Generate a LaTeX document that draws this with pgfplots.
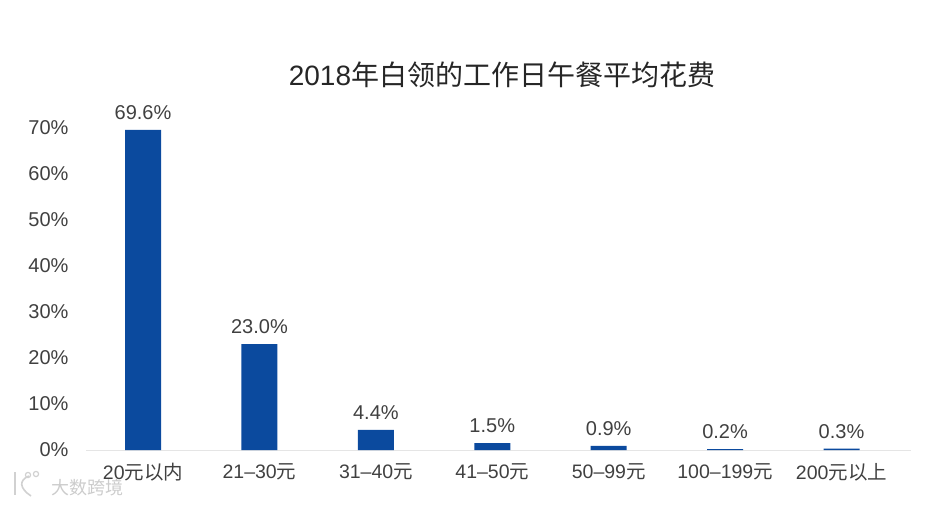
\documentclass[border=0pt]{standalone}
\usepackage{pgfplots}
\pgfplotsset{compat=1.18}
\usepackage{fontspec}
\setmainfont{Liberation Sans}
\newfontfamily\cjk{Noto Sans CJK SC}
\definecolor{txt}{HTML}{404040}
\definecolor{barc}{HTML}{0B4A9E}
\begin{document}
\begin{tikzpicture}[x=1pt,y=1pt]
\path[use as bounding box] (0,0) rectangle (948,504);
\begin{axis}[
  at={(86pt,54pt)},anchor=south west,
  scale only axis,width=825pt,height=331.2pt,
  xmin=-0.49,xmax=6.597,ymin=0,ymax=72,
  axis y line=left,axis x line=bottom,
  axis line style={draw=none},
  x axis line style={draw=black!10,-},
  y axis line style={draw=none,-},
  ytick={0,10,20,30,40,50,60,70},
  yticklabel={\pgfmathprintnumber{\tick}\%},
  /pgf/number format/assume math mode=true,
  xtick={0,1,2,3,4,5,6},
  xticklabels={20{\cjk 元以内},21–30{\cjk 元},31–40{\cjk 元},41–50{\cjk 元},50–99{\cjk 元},100–199{\cjk 元},200{\cjk 元以上}},
  major tick length=0pt,
  tick label style={font=\fontsize{19.5}{21}\selectfont,text=txt},
  yticklabel style={xshift=-14pt,font=\fontsize{20}{21}\selectfont},
  xticklabel style={yshift=-10pt},
  clip=false,
  ybar,bar width=36pt,
  nodes near coords={\pgfmathprintnumber[fixed,fixed zerofill,precision=1,assume math mode=true]{\pgfplotspointmeta}\%},
  every node near coord/.style={font=\fontsize{20}{21}\selectfont,text=txt,yshift=6.5pt,anchor=south},
]
\addplot[fill=barc,draw=none] coordinates {(0,69.6)(1,23.0)(2,4.4)(3,1.5)(4,0.9)(5,0.2)(6,0.3)};
\end{axis}
\node[font=\fontsize{28}{30}\selectfont,text=black!85,anchor=center] at (502,429) {2018{\cjk 年白领的工作日午餐平均花费}};
% watermark
\draw[black!18,line width=1.6pt] (15,32) -- (15,9);
\draw[black!18,line width=1.6pt] (29,28) .. controls (19,24) and (19,16) .. (31,8);
\draw[black!18,line width=1.2pt] (28,29) circle (2.6) (36,30) circle (2.6);
\node[font=\cjk\fontsize{18}{19}\selectfont,text=black!20,anchor=center] at (87,16) {大数跨境};
\end{tikzpicture}
\end{document}
